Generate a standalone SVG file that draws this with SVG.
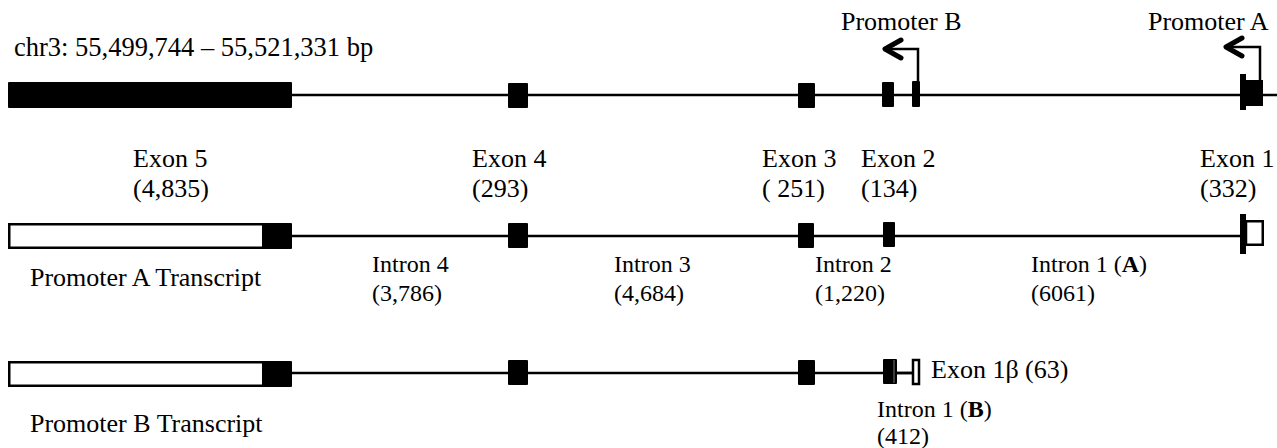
<svg xmlns="http://www.w3.org/2000/svg" width="1277" height="448" viewBox="0 0 1277 448">
<style>
text{font-family:"Liberation Serif","Times New Roman",serif;fill:#000}
.lg{font-size:26px}
.sm{font-size:24px}
.ex{fill:#000}
.ut{fill:#fff;stroke:#000;stroke-width:2.5}
.ln{stroke:#000;stroke-width:2.5;fill:none}
.arr{stroke:#000;stroke-width:2.5;fill:none}
.chev{stroke:#000;stroke-width:5;fill:none;stroke-linecap:round;stroke-linejoin:round}
</style>
<rect width="1277" height="448" fill="#fff"/>
<g id="connectors">
<line class="ln" x1="292" y1="95" x2="1277" y2="95"/>
<line class="ln" x1="292" y1="236" x2="1242" y2="236"/>
<line class="ln" x1="292" y1="373" x2="913" y2="373"/>
<path class="arr" d="M918 81 V49 H886"/>
<path class="chev" d="M901 40 L885 49 L901 58"/>
<path class="arr" d="M1260 80 V47 H1228"/>
<path class="chev" d="M1242 38 L1226 47 L1242 56"/>
</g>
<g id="title"><text x="14" y="56" style="font-size:26.5px">chr3: 55,499,744 – 55,521,331 bp</text></g>
<g id="promoterB"><text class="lg" x="841" y="30">Promoter B</text></g>
<g id="promoterA"><text class="lg" x="1148" y="30">Promoter A</text></g>
<g id="genomic">
<rect class="ex" x="8" y="82" width="284" height="26" rx="1"/>
<rect class="ex" x="508" y="83" width="20" height="25" rx="1"/>
<rect class="ex" x="798" y="83" width="17" height="25" rx="1"/>
<rect class="ex" x="882" y="82" width="12" height="25" rx="1"/>
<rect class="ex" x="912" y="81" width="8" height="26" rx="1"/>
<rect class="ex" x="1240" y="74" width="6" height="36"/>
<rect class="ex" x="1245" y="80" width="18" height="26"/>
</g>
<g id="exon-labels">
<text class="lg" x="133" y="167">Exon 5</text><text class="lg" x="133" y="197">(4,835)</text>
<text class="lg" x="472" y="167">Exon 4</text><text class="lg" x="472" y="197">(293)</text>
<text class="lg" x="762" y="167">Exon 3</text><text class="lg" x="762" y="197">( 251)</text>
<text class="lg" x="861" y="167">Exon 2</text><text class="lg" x="861" y="197">(134)</text>
<text class="lg" x="1200" y="167">Exon 1</text><text class="lg" x="1200" y="197">(332)</text>
</g>
<g id="transcriptA">
<rect class="ut" x="9.25" y="224.25" width="260" height="23.5"/>
<rect class="ex" x="262" y="223" width="30" height="26" rx="1"/>
<rect class="ex" x="508" y="223" width="20" height="25" rx="1"/>
<rect class="ex" x="798" y="223" width="16" height="25" rx="1"/>
<rect class="ex" x="883" y="222" width="12" height="25" rx="1"/>
<rect class="ex" x="1240" y="214" width="6" height="40"/>
<rect class="ut" x="1246" y="221.25" width="16.75" height="23.5" stroke-width="2"/>
<text class="lg" x="30" y="286">Promoter A Transcript</text>
</g>
<g id="intron-labels">
<text class="sm" x="372" y="272">Intron 4</text><text class="sm" x="372" y="301">(3,786)</text>
<text class="sm" x="614" y="272">Intron 3</text><text class="sm" x="614" y="301">(4,684)</text>
<text class="sm" x="815" y="272">Intron 2</text><text class="sm" x="815" y="301">(1,220)</text>
<text class="sm" x="1031" y="272">Intron 1 (<tspan font-weight="bold">A</tspan>)</text><text class="sm" x="1031" y="301">(6061)</text>
</g>
<g id="transcriptB">
<rect class="ut" x="9.25" y="362.25" width="260" height="23.5"/>
<rect class="ex" x="262" y="361" width="30" height="26" rx="1"/>
<rect class="ex" x="508" y="360" width="20" height="25" rx="1"/>
<rect class="ex" x="798" y="360" width="17" height="25" rx="1"/>
<rect class="ex" x="883" y="359" width="14" height="25" rx="1"/>
<line x1="894" y1="360" x2="894" y2="383" stroke="#777" stroke-width="1"/>
<line class="ln" x1="897" y1="373" x2="913" y2="373"/>
<rect class="ut" x="913" y="360" width="6" height="24" stroke-width="2"/>
<text class="lg" x="931" y="378">Exon 1β (63)</text>
<text class="sm" x="877" y="417">Intron 1 (<tspan font-weight="bold">B</tspan>)</text>
<text class="sm" x="877" y="444">(412)</text>
<text class="lg" x="30" y="432">Promoter B Transcript</text>
</g>
</svg>
